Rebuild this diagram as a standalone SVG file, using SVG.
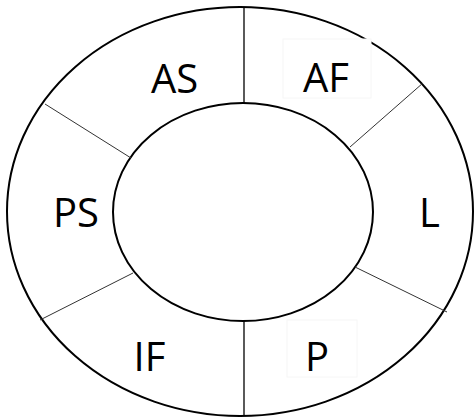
<svg xmlns="http://www.w3.org/2000/svg" width="474" height="419" viewBox="0 0 474 419">
  <style>
    .ring { fill: none; stroke: #000; stroke-width: 2; }
    .div { stroke: #000; stroke-width: 1.3; }
    .diag { stroke: #333; stroke-width: 1; }
    .lbl { font-family: "Open Sans", "Liberation Sans", sans-serif; font-size: 40px; fill: #000; text-anchor: middle; }
    .tbox { fill: #fff; stroke: #f6f6f6; stroke-width: 1; }
  </style>
  <rect width="474" height="419" fill="#fff"/>
  <g id="rings">
    <ellipse class="ring" cx="240" cy="211.5" rx="233" ry="204.5"/>
    <ellipse class="ring" cx="243" cy="212" rx="130" ry="109"/>
  </g>
  <g id="connectors">
    <line class="div" x1="244" y1="7" x2="244" y2="103"/>
    <line class="div" x1="244" y1="321" x2="244" y2="416"/>
    <line class="diag" x1="45" y1="104" x2="131" y2="158"/>
    <line class="diag" x1="423" y1="83" x2="350" y2="147"/>
    <line class="diag" x1="133" y1="273" x2="40" y2="320"/>
    <line class="diag" x1="355" y1="267" x2="447" y2="312"/>
  </g>
  <g id="AS"><text class="lbl" x="174.5" y="93">AS</text></g>
  <g id="AF">
    <rect class="tbox" x="283" y="39" width="88" height="59"/>
    <text class="lbl" x="326" y="92">AF</text>
  </g>
  <g id="PS"><text class="lbl" x="76" y="227">PS</text></g>
  <g id="L"><text class="lbl" x="429.5" y="227">L</text></g>
  <g id="IF"><text class="lbl" x="149.5" y="371">IF</text></g>
  <g id="P">
    <rect class="tbox" x="287" y="320" width="70" height="57"/>
    <text class="lbl" x="317" y="371">P</text>
  </g>
</svg>
